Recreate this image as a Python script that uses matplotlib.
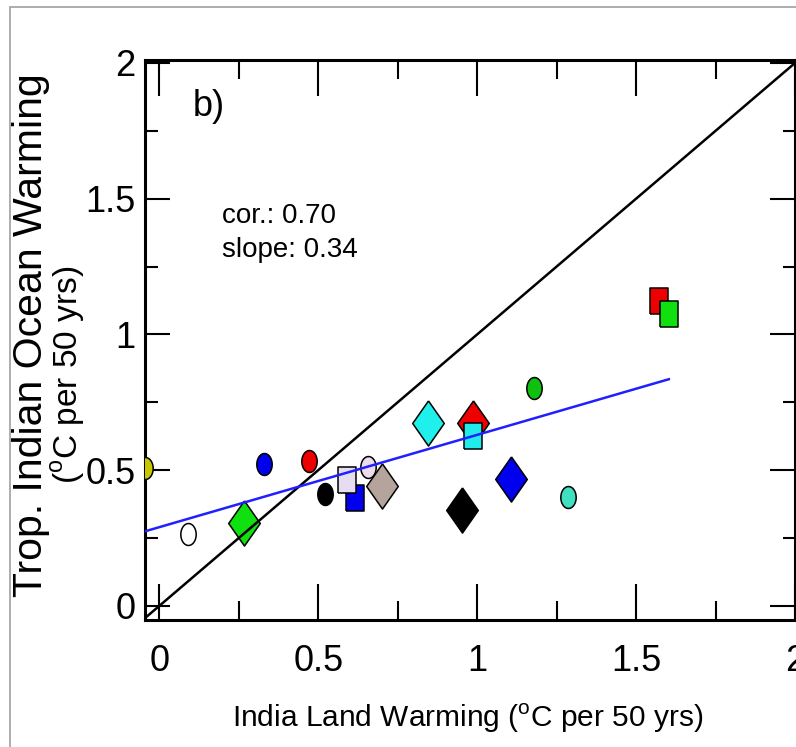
import numpy as np
import matplotlib
matplotlib.use("Agg")
import matplotlib.pyplot as plt
from matplotlib.patches import Rectangle
from matplotlib.ticker import MultipleLocator

plt.rcParams["font.family"] = ["Liberation Sans", "DejaVu Sans"]
plt.rcParams["mathtext.fontset"] = "custom"
plt.rcParams["mathtext.rm"] = "Liberation Sans"

# India land warming vs tropical Indian Ocean warming (degC per 50 yrs)
land_warming = [-0.045, 0.089, 0.268, 0.328, 0.472, 0.522, 0.616, 0.591, 0.657, 0.701,
                0.845, 0.951, 0.986, 0.986, 1.108, 1.180, 1.287, 1.572, 1.603]
ocean_warming = [0.509, 0.266, 0.306, 0.524, 0.535, 0.413, 0.399, 0.465, 0.513, 0.443,
                 0.675, 0.354, 0.672, 0.627, 0.469, 0.804, 0.402, 1.122, 1.074]
shapes = ["circle", "circle", "diamond", "circle", "circle", "circle", "square", "square",
          "circle", "diamond", "diamond", "diamond", "diamond", "square", "diamond",
          "circle", "circle", "square", "square"]
colors = ["#c8c800", "#ffffff", "#10e010", "#0000ee", "#ee0000", "#000000", "#0000ee",
          "#e6def0", "#ecdcec", "#b4a49c", "#20f0ec", "#000000", "#ee0000", "#20ecec",
          "#0000ee", "#10c010", "#40e0c0", "#ee0000", "#10e010"]

correlation = 0.70
fit_slope = 0.34
fit_intercept = 0.29

x_ticks = [0, 0.5, 1, 1.5, 2]
x_tick_labels = ["0", "0.5", "1", "1.5", "2"]
y_ticks = [0, 0.5, 1, 1.5, 2]
y_tick_labels = ["0", "0.5", "1", "1.5", "2"]

# vertically elongated marker outlines
ASPECT = 0.70
_t = np.linspace(0, 2 * np.pi, 64)
MARKERS = {
    "circle": list(zip(ASPECT * np.sin(_t), np.cos(_t))),
    "diamond": [(0, 1), (ASPECT, 0), (0, -1), (-ASPECT, 0), (0, 1)],
    "square": [(-ASPECT, -1), (ASPECT, -1), (ASPECT, 1), (-ASPECT, 1), (-ASPECT, -1)],
}
SIZES = {"circle": 15.8, "diamond": 32.5, "square": 19.0}

fig = plt.figure(figsize=(7.96, 7.47), dpi=100)
ax = fig.add_axes([145 / 796, 1 - 620 / 747, 650 / 796, 560 / 747])

for x, y, s, c in zip(land_warming, ocean_warming, shapes, colors):
    ax.plot([x], [y], linestyle="none", marker=MARKERS[s], markersize=SIZES[s],
            markerfacecolor=c, markeredgecolor="black", markeredgewidth=1.1, zorder=3)

# 1:1 line and regression fit
ax.axline((0, 0), slope=1, color="black", linewidth=1.8, zorder=4)
xf = np.array([min(land_warming), max(land_warming)])
ax.plot(xf, fit_intercept + fit_slope * xf, color="#2020ff", linewidth=1.8, zorder=5)

ax.set_xlim(-0.045, 1.992)
ax.set_ylim(-0.052, 2.011)
ax.set_xticks(x_ticks)
ax.set_xticklabels(x_tick_labels, fontsize=26)
ax.set_yticks(y_ticks)
ax.set_yticklabels(y_tick_labels, fontsize=26)
ax.xaxis.set_minor_locator(MultipleLocator(0.25))
ax.yaxis.set_minor_locator(MultipleLocator(0.25))
ax.tick_params(which="both", direction="in", top=True, right=True, width=1.5)
ax.tick_params(axis="x", which="major", length=26, pad=17)
ax.tick_params(axis="x", which="minor", length=14)
ax.tick_params(axis="y", which="major", length=18, pad=7)
ax.tick_params(axis="y", which="minor", length=9)
for sp in ax.spines.values():
    sp.set_linewidth(2.2)

ax.text(0.105, 1.84, "b)", fontsize=26, va="center", ha="left")
ax.text(0.196, 1.435, f"cor.: {correlation:.2f}", fontsize=20, va="center", ha="left")
ax.text(0.196, 1.31, f"slope: {fit_slope:.2f}", fontsize=20, va="center", ha="left")

fig.text(468 / 796, 1 - 718 / 747, r"India Land Warming ($^{\rm o}$C per 50 yrs)",
         fontsize=21.5, ha="center", va="center")
fig.text(31 / 796, 1 - 335 / 747, "Trop. Indian Ocean Warming", fontsize=29.5,
         rotation=90, ha="center", va="center")
fig.text(68 / 796, 1 - 375 / 747, r"($^{\rm o}$C per 50 yrs)", fontsize=24,
         rotation=90, ha="center", va="center")

fig.patches.append(Rectangle((9.5 / 796, -0.1), 1.2, 1 - 7 / 747 + 0.1,
                             transform=fig.transFigure, fill=False,
                             edgecolor="#a0a0a0", linewidth=1.2))

fig.savefig("out.png", dpi=100)
